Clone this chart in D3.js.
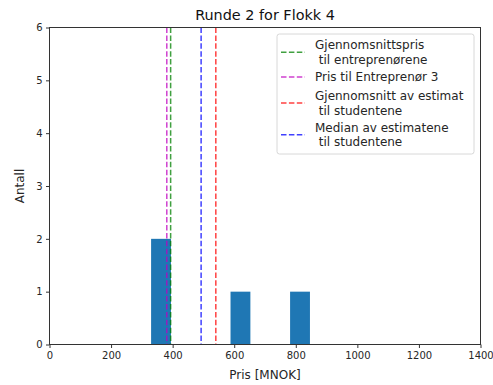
<!DOCTYPE html>
<html>
<head>
<meta charset="utf-8">
<script src="https://cdn.jsdelivr.net/npm/d3@7"></script>
<style>
  html, body { margin: 0; padding: 0; background: #fff; }
  svg { display: block; font-family: "DejaVu Sans", sans-serif; }
</style>
</head>
<body>
<svg id="chart" width="493" height="385"></svg>
<script>
// Student estimates (MNOK) for round 2, flock 4
const estimates = [330, 385, 600, 846];
const binCount = 8;

// Reference lines
const refLabels = [
  ["Gjennomsnittspris", " til entreprenørene"],
  ["Pris til Entreprenør 3"],
  ["Gjennomsnitt av estimat", " til studentene"],
  ["Median av estimatene", " til studentene"]
];
const refValues = [393.5, 381, d3.mean(estimates), d3.median(estimates)];
const refColors = ["#008000", "#bf00bf", "#ff0000", "#0000ff"];

const xTicks = [0, 200, 400, 600, 800, 1000, 1200, 1400];
const yTicks = [0, 1, 2, 3, 4, 5, 6];

const svg = d3.select("#chart");
const m = { left: 49.5, right: 480.5, top: 27.5, bottom: 344.5 };

const x = d3.scaleLinear().domain([0, 1400]).range([m.left, m.right]);
const y = d3.scaleLinear().domain([0, 6]).range([m.bottom, m.top]);

// Histogram: equal-width bins spanning the data range
const [lo, hi] = d3.extent(estimates);
const step = (hi - lo) / binCount;
const thresholds = d3.range(1, binCount).map(i => lo + i * step);
const bins = d3.bin().domain([lo, hi]).thresholds(thresholds)(estimates);

svg.append("g").selectAll("rect")
  .data(bins.filter(b => b.length > 0))
  .join("rect")
  .attr("x", d => x(d.x0))
  .attr("width", d => x(d.x1) - x(d.x0))
  .attr("y", d => y(d.length))
  .attr("height", d => y(0) - y(d.length))
  .attr("fill", "#1f77b4");

// Vertical dashed reference lines
svg.append("g").selectAll("line")
  .data(refValues)
  .join("line")
  .attr("x1", d => x(d)).attr("x2", d => x(d))
  .attr("y1", m.top).attr("y2", m.bottom)
  .attr("stroke", (d, i) => refColors[i])
  .attr("stroke-opacity", 0.75)
  .attr("stroke-width", 1.5)
  .attr("stroke-dasharray", "5.5,2.4");

// Axes
const xAxis = svg.append("g")
  .attr("transform", `translate(0,${m.bottom})`)
  .call(d3.axisBottom(x).tickValues(xTicks).tickSize(3.5).tickPadding(3.5).tickFormat(d3.format("d")));
const yAxis = svg.append("g")
  .attr("transform", `translate(${m.left},0)`)
  .call(d3.axisLeft(y).tickValues(yTicks).tickSize(3.5).tickPadding(3.5).tickFormat(d3.format("d")));
[xAxis, yAxis].forEach(a => {
  a.select(".domain").remove();
  a.selectAll("text").attr("font-size", 10).attr("fill", "#262626").attr("font-family", "DejaVu Sans");
  a.selectAll("line").attr("stroke", "#333");
});

// Frame
svg.append("rect")
  .attr("x", m.left).attr("y", m.top)
  .attr("width", m.right - m.left).attr("height", m.bottom - m.top)
  .attr("fill", "none").attr("stroke", "#333").attr("stroke-width", 1);

// Title and axis labels
svg.append("text")
  .attr("x", (m.left + m.right) / 2).attr("y", 20)
  .attr("text-anchor", "middle").attr("font-size", 14.4).attr("fill", "#111")
  .text("Runde 2 for Flokk 4");
svg.append("text")
  .attr("x", (m.left + m.right) / 2).attr("y", 379)
  .attr("text-anchor", "middle").attr("font-size", 12).attr("fill", "#262626")
  .text("Pris [MNOK]");
svg.append("text")
  .attr("transform", `translate(24,${(m.top + m.bottom) / 2}) rotate(-90)`)
  .attr("text-anchor", "middle").attr("font-size", 12).attr("fill", "#262626")
  .text("Antall");

// Legend
const leg = svg.append("g");
leg.append("rect")
  .attr("x", 277).attr("y", 34).attr("width", 197).attr("height", 120)
  .attr("rx", 2.5).attr("fill", "#fff").attr("fill-opacity", 0.8)
  .attr("stroke", "#d8d8d8").attr("stroke-width", 1);

const lineY = [52.3, 76.9, 103, 134.7];
const firstLineCenter = [45.1, 76.9, 95.8, 127.5];
refLabels.forEach((lines, i) => {
  leg.append("line")
    .attr("x1", 281).attr("x2", 305)
    .attr("y1", lineY[i]).attr("y2", lineY[i])
    .attr("stroke", refColors[i]).attr("stroke-opacity", 0.75)
    .attr("stroke-width", 1.5).attr("stroke-dasharray", "5.5,2.4");
  const t = leg.append("text")
    .attr("x", 315).attr("font-size", 12).attr("fill", "#262626")
    .attr("xml:space", "preserve").style("white-space", "pre");
  lines.forEach((s, j) => {
    t.append("tspan")
      .attr("x", 315)
      .attr("y", firstLineCenter[i] + 4.3 + j * 14.4)
      .text(s);
  });
});
</script>
</body>
</html>
